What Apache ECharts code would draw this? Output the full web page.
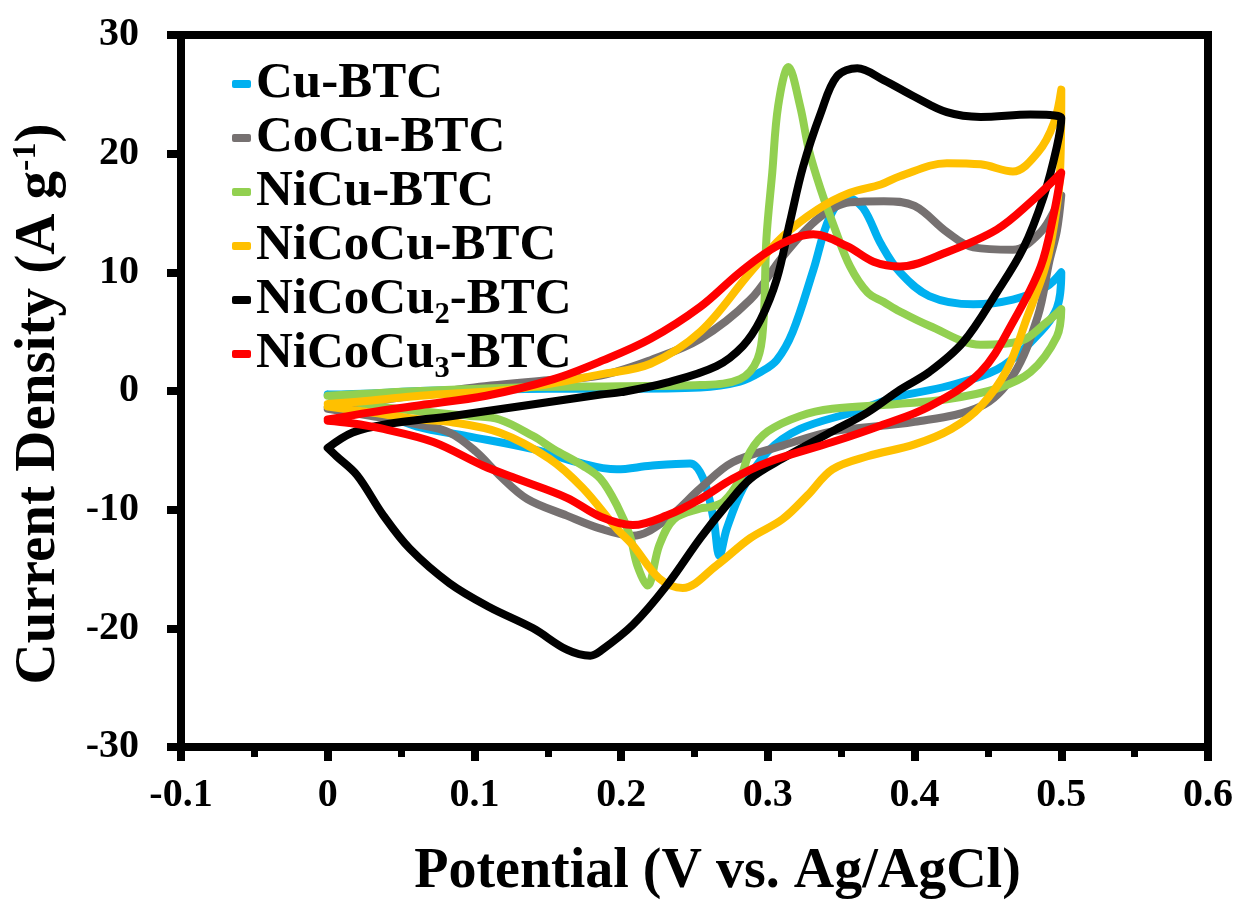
<!DOCTYPE html>
<html>
<head>
<meta charset="utf-8">
<script src="https://cdn.jsdelivr.net/npm/echarts@6/dist/echarts.min.js"></script>
<style>
  html, body { margin: 0; padding: 0; background: #fff; }
  #cv_chart { width: 1245px; height: 906px; }
</style>
</head>
<body>
<div id="cv_chart"></div>
<script>
// sample names (legend order)
const sampleNames = ['Cu-BTC', 'CoCu-BTC', 'NiCu-BTC', 'NiCoCu-BTC', 'NiCoCu₂-BTC', 'NiCoCu₃-BTC'];
const sampleColors = ['#00B0F0', '#767171', '#92D050', '#FFC000', '#000000', '#FF0000'];

// CV loops: [potential V, current density A/g], anodic sweep 0 -> 0.5 then cathodic back to 0
const cuBTC = [
  [0, -0.3], [0.03, -0.2], [0.063, 0], [0.1, 0.1], [0.15, 0.2], [0.2, 0.2], [0.254, 0.3],
  [0.281, 0.8], [0.295, 1.6], [0.306, 2.6], [0.317, 5.0], [0.331, 10.2], [0.342, 14.6],
  [0.354, 16.3], [0.365, 15.4], [0.377, 12.4], [0.39, 10.0], [0.41, 8.0], [0.44, 7.3],
  [0.467, 7.7], [0.49, 8.8], [0.5, 10.0],
  [0.497, 7.0], [0.479, 4.1], [0.456, 1.8], [0.422, 0.4], [0.388, -0.5], [0.36, -1.7],
  [0.322, -3.2], [0.30, -5.1], [0.283, -8.2], [0.272, -11.6], [0.267, -13.9], [0.263, -10.8],
  [0.256, -7.4], [0.247, -6.1], [0.22, -6.3], [0.197, -6.6], [0.17, -6.0], [0.14, -4.9],
  [0.095, -3.8], [0.061, -3.0], [0.029, -1.5], [0, -0.3]
];
const coCuBTC = [
  [0, -1.4], [0.03, -0.9], [0.063, -0.3], [0.1, 0.3], [0.15, 0.9], [0.186, 1.3], [0.22, 2.6],
  [0.254, 4.4], [0.288, 7.7], [0.31, 11.3], [0.334, 14.5], [0.356, 15.9], [0.379, 16.0],
  [0.4, 15.6], [0.422, 13.4], [0.44, 12.1], [0.467, 11.9], [0.486, 13.4], [0.497, 15.6], [0.5, 16.5],
  [0.497, 13.5], [0.492, 11.0], [0.484, 6.3], [0.467, 1.3], [0.445, -1.3], [0.4, -2.6],
  [0.344, -3.4], [0.31, -4.6], [0.276, -6.0], [0.254, -8.2], [0.231, -10.8], [0.208, -12.2],
  [0.186, -11.6], [0.163, -10.5], [0.136, -9.1], [0.117, -7.1], [0.101, -5.1], [0.083, -3.5],
  [0.061, -2.8], [0.029, -2.1], [0, -1.5]
];
const niCuBTC = [
  [0, -0.4], [0.03, -0.2], [0.063, 0], [0.13, 0.3], [0.2, 0.4], [0.254, 0.5], [0.281, 1.0],
  [0.293, 2.7], [0.297, 5.8], [0.299, 12.8], [0.303, 18.4], [0.307, 24.0], [0.314, 27.3],
  [0.322, 24.0], [0.328, 20.3], [0.336, 17.0], [0.345, 13.9], [0.356, 10.5], [0.368, 8.3],
  [0.379, 7.5], [0.39, 6.7], [0.41, 5.5], [0.445, 3.9], [0.472, 4.2], [0.49, 5.8], [0.5, 6.9],
  [0.497, 4.6], [0.479, 1.6], [0.456, 0.2], [0.422, -0.7], [0.388, -1.1], [0.344, -1.5],
  [0.322, -2.1], [0.30, -3.4], [0.288, -5.1], [0.281, -7.4], [0.27, -9.3], [0.26, -9.8],
  [0.254, -9.9], [0.236, -10.8], [0.226, -13.0], [0.218, -16.4], [0.211, -14.7], [0.206, -12.2],
  [0.197, -9.6], [0.186, -7.4], [0.174, -6.3], [0.154, -4.9], [0.14, -3.8], [0.117, -2.4],
  [0.097, -2.1], [0.063, -1.7], [0.029, -1.2], [0, -0.4]
];
const niCoCuBTC = [
  [0, -1.1], [0.03, -0.8], [0.063, -0.4], [0.13, 0.2], [0.186, 1.4], [0.22, 2.3], [0.254, 5.0],
  [0.288, 10.0], [0.31, 13.0], [0.334, 15.3], [0.356, 16.7], [0.377, 17.4], [0.39, 18.1],
  [0.422, 19.2], [0.445, 19.1], [0.467, 18.5], [0.484, 20.1], [0.495, 22.6], [0.5, 25.4],
  [0.499, 18.0], [0.493, 12.5], [0.488, 10.0], [0.477, 6.3], [0.463, 1.8], [0.445, -1.3],
  [0.425, -3.2], [0.40, -4.5], [0.368, -5.5], [0.344, -6.6], [0.327, -8.8], [0.31, -10.8],
  [0.288, -12.4], [0.265, -14.7], [0.242, -16.6], [0.226, -15.8], [0.208, -13.0], [0.197, -11.6],
  [0.174, -8.2], [0.151, -5.7], [0.117, -3.5], [0.083, -2.6], [0.063, -2.4], [0.029, -1.8], [0, -1.3]
];
const niCoCu2BTC = [
  [0, -4.8], [0.017, -3.5], [0.04, -2.8], [0.085, -2.1], [0.13, -1.3], [0.186, -0.3], [0.2, -0.1],
  [0.231, 0.7], [0.265, 2.1], [0.283, 3.8], [0.295, 6.0], [0.306, 9.4], [0.315, 14.2],
  [0.324, 18.9], [0.336, 23.4], [0.347, 26.5], [0.361, 27.2], [0.379, 26.2], [0.4, 24.8],
  [0.422, 23.5], [0.445, 23.1], [0.479, 23.3], [0.5, 23.0],
  [0.497, 20.6], [0.488, 16.4], [0.474, 12.0], [0.456, 8.3], [0.433, 4.1], [0.41, 1.6],
  [0.39, 0.1], [0.368, -1.8], [0.344, -3.4], [0.31, -5.7], [0.288, -7.4], [0.272, -9.6],
  [0.254, -12.4], [0.231, -16.4], [0.208, -19.7], [0.186, -21.9], [0.179, -22.3], [0.163, -21.8],
  [0.14, -20.0], [0.11, -18.2], [0.083, -16.2], [0.056, -13.3], [0.038, -10.5], [0.02, -7.1],
  [0.006, -5.5], [0, -4.8]
];
const niCoCu3BTC = [
  [0, -2.4], [0.029, -1.8], [0.063, -1.2], [0.108, -0.4], [0.154, 1.0], [0.188, 2.6], [0.22, 4.4],
  [0.254, 7.1], [0.281, 10.0], [0.306, 12.2], [0.331, 13.2], [0.354, 12.2], [0.372, 10.9],
  [0.39, 10.5], [0.422, 11.7], [0.456, 13.6], [0.479, 15.9], [0.5, 18.4],
  [0.495, 15.0], [0.486, 10.5], [0.467, 5.8], [0.445, 1.6], [0.41, -1.3], [0.377, -2.9],
  [0.344, -4.3], [0.30, -6.0], [0.276, -7.4], [0.254, -9.1], [0.231, -10.5], [0.208, -11.3],
  [0.186, -10.6], [0.163, -9.0], [0.129, -7.4], [0.106, -6.3], [0.072, -4.3], [0.038, -3.2],
  [0.015, -2.7], [0, -2.5]
];
const loops = [cuBTC, coCuBTC, niCuBTC, niCoCuBTC, niCoCu2BTC, niCoCu3BTC];

const FONT = '"Liberation Serif", "Times New Roman", serif';

const chart = echarts.init(document.getElementById('cv_chart'));
const option = {
  animation: false,
  backgroundColor: '#fff',
  grid: {
    left: 181, right: 37, top: 35, bottom: 157,
    show: true, borderColor: '#000', borderWidth: 8
  },
  legend: {
    orient: 'vertical',
    left: 227, top: 52,
    itemGap: 0,
    itemWidth: 19, itemHeight: 8,
    icon: 'roundRect',
    textStyle: { fontFamily: FONT, fontSize: 51, fontWeight: 'bold', color: '#000', lineHeight: 54 },
    data: sampleNames
  },
  xAxis: {
    type: 'value',
    min: -0.1, max: 0.6, interval: 0.1,
    name: 'Potential (V vs. Ag/AgCl)',
    nameLocation: 'middle',
    nameGap: 98,
    nameTextStyle: { fontFamily: FONT, fontSize: 56, fontWeight: 'bold', color: '#000', padding: [0, 0, 0, 46] },
    axisLine: { onZero: false, lineStyle: { color: '#000', width: 8 } },
    axisTick: { length: 14, lineStyle: { color: '#000', width: 8 } },
    minorTick: { show: true, splitNumber: 2, length: 10, lineStyle: { color: '#000', width: 7 } },
    splitLine: { show: false },
    axisLabel: {
      margin: 29, fontFamily: FONT, fontSize: 40, fontWeight: 'bold', color: '#000',
      formatter: v => String(Math.round(v * 10) / 10)
    }
  },
  yAxis: {
    type: 'value',
    min: -30, max: 30, interval: 10,
    name: '{t|Current Density (A g}{s|-1}{t|)}',
    nameLocation: 'middle',
    nameGap: 112,
    nameTextStyle: {
      color: '#000',
      padding: [0, 26, 0, 0],
      rich: {
        t: { fontFamily: FONT, fontSize: 57, fontWeight: 'bold', color: '#000' },
        s: { fontFamily: FONT, fontSize: 34, fontWeight: 'bold', color: '#000', padding: [0, 0, 26, 0] }
      }
    },
    axisLine: { onZero: false, lineStyle: { color: '#000', width: 8 } },
    axisTick: { length: 14, lineStyle: { color: '#000', width: 8 } },
    splitLine: { show: false },
    axisLabel: { margin: 42, fontFamily: FONT, fontSize: 40, fontWeight: 'bold', color: '#000' }
  },
  series: loops.map((pts, i) => ({
    name: sampleNames[i],
    type: 'line',
    data: pts,
    smooth: 0.35,
    symbol: 'none',
    clip: false,
    itemStyle: { color: sampleColors[i] },
    lineStyle: { color: sampleColors[i], width: 8, cap: 'round', join: 'round' }
  }))
};
chart.setOption(option);
</script>
</body>
</html>
